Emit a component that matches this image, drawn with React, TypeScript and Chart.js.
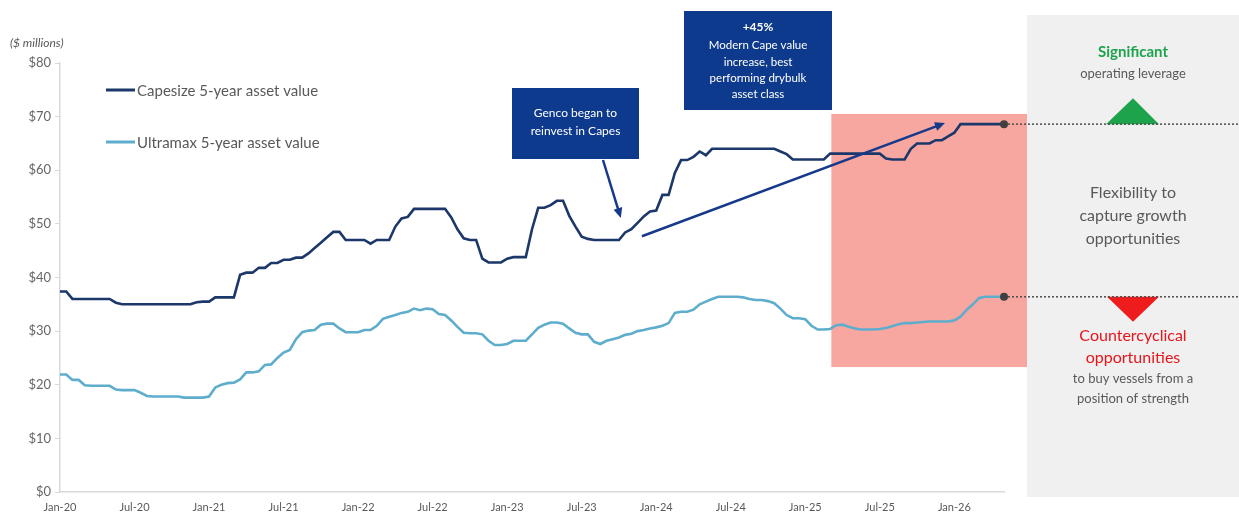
import React, { useEffect, useRef } from 'react';
import { Chart, registerables } from 'chart.js';

Chart.register(...registerables);

// Half-monthly observations, Jan-20 .. May-26
const MONTH_NAMES = ['Jan', 'Feb', 'Mar', 'Apr', 'May', 'Jun', 'Jul', 'Aug', 'Sep', 'Oct', 'Nov', 'Dec'];
const periodLabels: string[] = [];
for (let m = 0; m < 77; m++) {
  const name = MONTH_NAMES[m % 12];
  const yy = 20 + Math.floor(m / 12);
  periodLabels.push(`01-${name}-${yy}`);
  if (m < 76) periodLabels.push(`15-${name}-${yy}`);
}

const seriesNames = ['Capesize 5-year asset value', 'Ultramax 5-year asset value'];

const capesizeValues = [
  37.4, 37.4, 36, 36, 36, 36, 36, 36, 36, 35.3,
  35, 35, 35, 35, 35, 35, 35, 35, 35, 35, 35, 35,
  35.4, 35.5, 35.5,
  36.3, 36.3, 36.3, 36.3,
  40.5, 40.9, 40.9,
  41.8, 41.8, 42.7, 42.7, 43.3, 43.3, 43.7, 43.7,
  44.5, 45.5, 46.5, 47.5, 48.5, 48.5,
  47, 47, 47, 47, 46.3, 47, 47, 47,
  49.5, 51, 51.3,
  52.8, 52.8, 52.8, 52.8, 52.8, 52.8,
  51.2, 49, 47.3, 47, 47,
  43.5, 42.8, 42.8, 42.8, 43.5, 43.8, 43.8, 43.8,
  49, 53, 53, 53.5, 54.3, 54.3,
  51.5, 49.5, 47.6, 47.2,
  47, 47, 47, 47, 47,
  48.4, 49, 50.2, 51.4, 52.3, 52.5,
  55.4, 55.4,
  59.5, 61.9, 61.9, 62.5, 63.5, 62.8,
  64, 64, 64, 64, 64, 64, 64, 64, 64, 64, 64,
  63.5, 63,
  62, 62, 62, 62, 62, 62,
  63.1, 63.1, 63.1, 63.1, 63.1, 63.1, 63.1, 63.1, 63.1,
  62.2, 62, 62, 62,
  64, 65, 65, 65, 65.6, 65.6, 66.3, 67,
  68.6, 68.6, 68.6, 68.6, 68.6, 68.6, 68.6, 68.6,
];

const ultramaxValues = [
  21.9, 21.9, 20.9, 20.9, 19.9, 19.8, 19.8, 19.8, 19.8, 19.1,
  19, 19, 19, 18.5, 17.9, 17.8, 17.8, 17.8, 17.8, 17.8,
  17.6, 17.6, 17.6, 17.6, 17.8,
  19.5, 20, 20.3, 20.4, 21, 22.3, 22.3, 22.5, 23.7, 23.8,
  25, 26, 26.5, 28.5, 29.8, 30.1, 30.2, 31.2, 31.4, 31.4,
  30.5, 29.8, 29.8, 29.8, 30.2, 30.2, 31, 32.3, 32.7, 33,
  33.4, 33.6, 34.2, 33.9, 34.2, 34.1, 33.2, 33, 32, 30.8,
  29.7, 29.6, 29.6, 29.4, 28.2, 27.4, 27.4, 27.6, 28.2, 28.2,
  28.2, 29.4, 30.6, 31.2, 31.6, 31.6, 31.4, 30.5, 29.7, 29.4,
  29.4, 28, 27.6, 28.2, 28.5, 28.8, 29.3, 29.5, 30, 30.2,
  30.5, 30.7, 31, 31.5, 33.4, 33.6, 33.6, 34, 35, 35.5,
  36, 36.4, 36.4, 36.4, 36.4, 36.3, 36, 35.8, 35.8, 35.6,
  35.2, 34.2, 33, 32.4, 32.4, 32.2, 31, 30.3, 30.3, 30.4,
  31.1, 31.2, 30.8, 30.5, 30.3, 30.3, 30.3, 30.4, 30.6, 30.9,
  31.3, 31.5, 31.5, 31.6, 31.7, 31.8, 31.8, 31.8, 31.8, 32,
  32.7, 34, 35, 36.2, 36.4, 36.4, 36.4, 36.4,
];

const yTickValues = [0, 10, 20, 30, 40, 50, 60, 70, 80];
const xTickMonths = ['Jan', 'Jul'];

// Annotation anchors (period index, $ millions)
const highlightStart = 124.2;
const highlightTop = 70.5;
const highlightBottom = 23.3;
const reinvestArrowTip = [90.3, 51.1];
const growthArrowFrom = [93.7, 47.7];
const growthArrowTo = [142.5, 68.8];

const CAPE_COLOR = '#1c3769';
const ULTRA_COLOR = '#5eadcc';
const BOX_COLOR = '#0d3a8c';
const TEXT_GRAY = '#595959';
const FONT = 'Lato, "Open Sans", sans-serif';

function arrow(ctx: CanvasRenderingContext2D, x1: number, y1: number, x2: number, y2: number, color: string) {
  const ang = Math.atan2(y2 - y1, x2 - x1);
  const head = 10;
  const hw = 4.5;
  ctx.save();
  ctx.strokeStyle = color;
  ctx.fillStyle = color;
  ctx.lineWidth = 2.5;
  ctx.beginPath();
  ctx.moveTo(x1, y1);
  ctx.lineTo(x2 - Math.cos(ang) * head * 0.8, y2 - Math.sin(ang) * head * 0.8);
  ctx.stroke();
  ctx.beginPath();
  ctx.moveTo(x2, y2);
  ctx.lineTo(x2 - Math.cos(ang) * head - Math.sin(ang) * hw, y2 - Math.sin(ang) * head + Math.cos(ang) * hw);
  ctx.lineTo(x2 - Math.cos(ang) * head + Math.sin(ang) * hw, y2 - Math.sin(ang) * head - Math.cos(ang) * hw);
  ctx.closePath();
  ctx.fill();
  ctx.restore();
}

function textLines(ctx: CanvasRenderingContext2D, lines: [string, number, string, string][], cx: number) {
  ctx.textAlign = 'center';
  ctx.textBaseline = 'middle';
  for (const [t, y, font, color] of lines) {
    ctx.font = font;
    ctx.fillStyle = color;
    ctx.fillText(t, cx, y);
  }
}

const overlayPlugin = {
  id: 'overlay',
  beforeDraw(chart: any) {
    const ctx = chart.ctx as CanvasRenderingContext2D;
    ctx.save();
    ctx.fillStyle = '#f0f0f0';
    ctx.fillRect(chart.width - 212, 15, 212, 482);
    ctx.restore();
  },
  beforeDatasetsDraw(chart: any) {
    const ctx = chart.ctx as CanvasRenderingContext2D;
    const xs = chart.scales.x;
    const ys = chart.scales.y;
    const left = xs.getPixelForValue(highlightStart);
    const right = chart.width - 212;
    const top = ys.getPixelForValue(highlightTop);
    const bottom = ys.getPixelForValue(highlightBottom);
    ctx.save();
    ctx.fillStyle = 'rgb(248,166,160)';
    ctx.fillRect(left, top, right - left, bottom - top);
    ctx.restore();
  },
  afterDatasetsDraw(chart: any) {
    const ctx = chart.ctx as CanvasRenderingContext2D;
    const xs = chart.scales.x;
    const ys = chart.scales.y;
    const W = chart.width;
    ctx.save();

    // axis unit label
    ctx.font = `italic 12px ${FONT}`;
    ctx.fillStyle = TEXT_GRAY;
    ctx.textAlign = 'left';
    ctx.textBaseline = 'middle';
    ctx.fillText('($ millions)', 10, 43);

    // legend
    const legendY = [90, 142];
    const colors = [CAPE_COLOR, ULTRA_COLOR];
    chart.data.datasets.forEach((ds: any, i: number) => {
      ctx.strokeStyle = colors[i];
      ctx.lineWidth = 3;
      ctx.beginPath();
      ctx.moveTo(106, legendY[i]);
      ctx.lineTo(135, legendY[i]);
      ctx.stroke();
      ctx.font = `15px ${FONT}`;
      ctx.fillStyle = TEXT_GRAY;
      ctx.textAlign = 'left';
      ctx.textBaseline = 'middle';
      ctx.fillText(ds.label, 137, legendY[i] + 1);
    });

    // callout boxes
    ctx.fillStyle = BOX_COLOR;
    ctx.fillRect(512, 88, 127, 71);
    ctx.fillRect(684, 11, 148, 99);
    textLines(ctx, [
      ['Genco began to', 113, `12px ${FONT}`, '#ffffff'],
      ['reinvest in Capes', 131, `12px ${FONT}`, '#ffffff'],
    ], 575.5);
    textLines(ctx, [
      ['+45%', 27, `bold 12px ${FONT}`, '#ffffff'],
      ['Modern Cape value', 45, `11.5px ${FONT}`, '#ffffff'],
      ['increase, best', 62, `11.5px ${FONT}`, '#ffffff'],
      ['performing drybulk', 78, `11.5px ${FONT}`, '#ffffff'],
      ['asset class', 94, `11.5px ${FONT}`, '#ffffff'],
    ], 758);

    // arrows
    arrow(ctx, 603, 160, xs.getPixelForValue(reinvestArrowTip[0]), ys.getPixelForValue(reinvestArrowTip[1]), '#17398a');
    arrow(ctx,
      xs.getPixelForValue(growthArrowFrom[0]), ys.getPixelForValue(growthArrowFrom[1]),
      xs.getPixelForValue(growthArrowTo[0]), ys.getPixelForValue(growthArrowTo[1]), '#17398a');

    // end dots + dotted guides
    const lastIdx = capesizeValues.length - 1;
    const ex = xs.getPixelForValue(lastIdx);
    const capeY = ys.getPixelForValue(capesizeValues[lastIdx]);
    const ultraY = ys.getPixelForValue(ultramaxValues[lastIdx]);
    const cx = 1133;

    // triangles
    ctx.fillStyle = '#1ea34d';
    ctx.beginPath();
    ctx.moveTo(cx, capeY - 26);
    ctx.lineTo(cx - 27, capeY);
    ctx.lineTo(cx + 26, capeY);
    ctx.closePath();
    ctx.fill();
    ctx.fillStyle = '#ee1c1c';
    ctx.beginPath();
    ctx.moveTo(cx - 26, ultraY);
    ctx.lineTo(cx + 26, ultraY);
    ctx.lineTo(cx, ultraY + 25);
    ctx.closePath();
    ctx.fill();

    ctx.strokeStyle = '#4d4d4d';
    ctx.lineWidth = 1.5;
    ctx.setLineDash([2, 2]);
    for (const yy of [capeY, ultraY]) {
      ctx.beginPath();
      ctx.moveTo(ex, yy);
      ctx.lineTo(W, yy);
      ctx.stroke();
    }
    ctx.setLineDash([]);
    ctx.fillStyle = '#404040';
    for (const yy of [capeY, ultraY]) {
      ctx.beginPath();
      ctx.arc(ex, yy, 4, 0, Math.PI * 2);
      ctx.fill();
    }

    // right panel texts
    textLines(ctx, [
      ['Significant', 52, `bold 15px ${FONT}`, '#1ea34d'],
      ['operating leverage', 74, `13px ${FONT}`, TEXT_GRAY],
      ['Flexibility to', 193, `16px ${FONT}`, TEXT_GRAY],
      ['capture growth', 216, `16px ${FONT}`, TEXT_GRAY],
      ['opportunities', 239, `16px ${FONT}`, TEXT_GRAY],
      ['Countercyclical', 336, `16px ${FONT}`, '#e8141b'],
      ['opportunities', 358, `16px ${FONT}`, '#e8141b'],
      ['to buy vessels from a', 379, `13px ${FONT}`, TEXT_GRAY],
      ['position of strength', 399, `13px ${FONT}`, TEXT_GRAY],
    ], cx);

    ctx.restore();
  },
};

export default function App() {
  const ref = useRef<HTMLCanvasElement | null>(null);
  useEffect(() => {
    if (!ref.current) return;
    const chart = new Chart(ref.current, {
      type: 'line',
      data: {
        labels: periodLabels,
        datasets: [
          {
            label: seriesNames[0],
            data: capesizeValues,
            borderColor: CAPE_COLOR,
            borderWidth: 2.6,
            pointRadius: 0,
            tension: 0,
          },
          {
            label: seriesNames[1],
            data: ultramaxValues,
            borderColor: ULTRA_COLOR,
            borderWidth: 2.6,
            pointRadius: 0,
            tension: 0,
          },
        ],
      },
      options: {
        responsive: false,
        animation: false,
        layout: { padding: { left: 0, right: 235, top: 63, bottom: 5 } },
        plugins: { legend: { display: false }, tooltip: { enabled: false } },
        scales: {
          x: {
            type: 'category',
            offset: false,
            grid: { display: false, drawTicks: false },
            border: { display: true, color: '#d9d9d9', width: 1.5 },
            ticks: {
              autoSkip: false,
              maxRotation: 0,
              padding: 9,
              color: TEXT_GRAY,
              font: { family: FONT, size: 11 },
              callback: (value: any) => {
                const l = periodLabels[value as number];
                if (!l) return '';
                const parts = l.split('-');
                return parts[0] === '01' && xTickMonths.includes(parts[1]) ? `${parts[1]}-${parts[2]}` : '';
              },
            },
            afterFit: (s: any) => { s.height = 26; },
          },
          y: {
            min: 0,
            max: 80,
            afterBuildTicks: (s: any) => { s.ticks = yTickValues.map((v) => ({ value: v })); },
            grid: { display: true, drawOnChartArea: false, drawTicks: true, tickLength: 5, color: '#d9d9d9' },
            border: { display: true, color: '#d9d9d9', width: 1.5 },
            ticks: {
              padding: 4,
              color: '#666666',
              font: { family: FONT, size: 13 },
              callback: (v: any) => `$${v}`,
            },
            afterFit: (s: any) => { s.width = 60; },
          },
        },
      },
      plugins: [overlayPlugin],
    });
    return () => chart.destroy();
  }, []);
  return (
    <div style={{ position: 'absolute', left: 0, top: 0, width: 1239, height: 523, background: '#ffffff' }}>
      <canvas ref={ref} width={1239} height={523} style={{ display: 'block' }} />
    </div>
  );
}
